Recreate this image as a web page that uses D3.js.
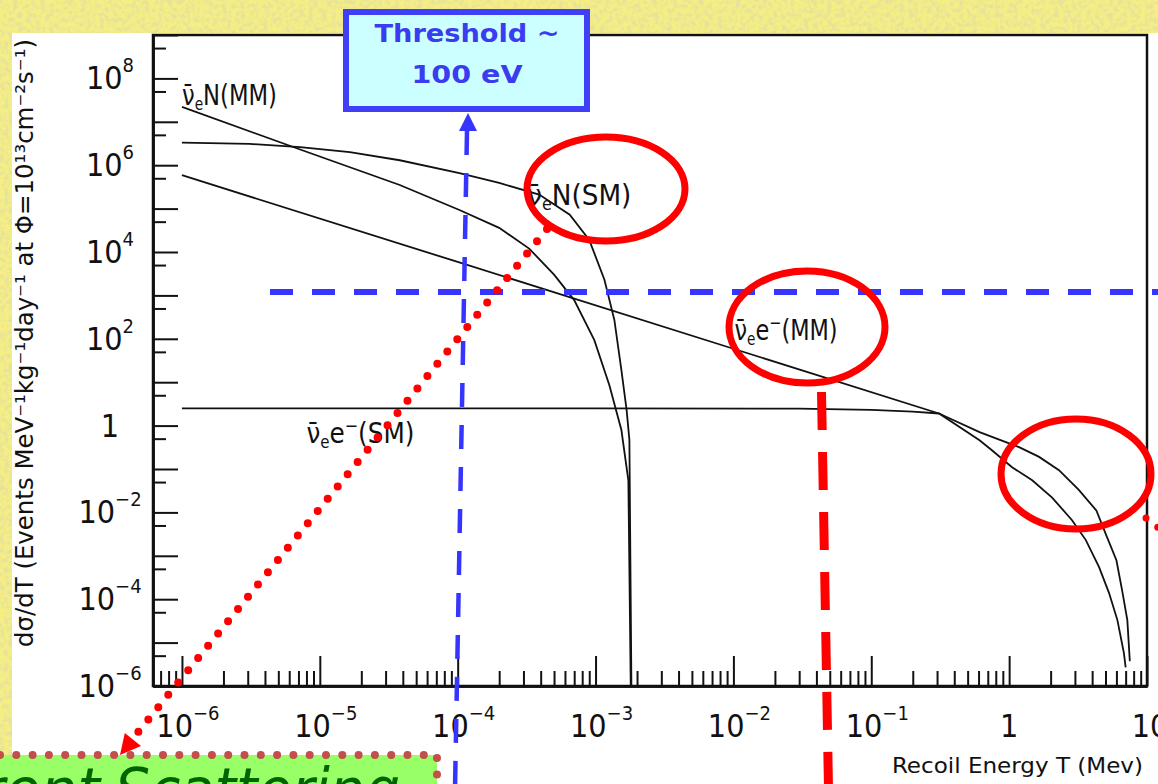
<!DOCTYPE html>
<html>
<head>
<meta charset="utf-8">
<title>Neutrino recoil spectra</title>
<script src="https://cdn.jsdelivr.net/npm/d3@7"></script>
<style>
  html, body { margin: 0; padding: 0; background: #f2ea7c; overflow: hidden; }
  svg { display: block; }
  .tick-label, .curve-label, .axis-title {
    font-family: "Liberation Sans Narrow", "DejaVu Sans Condensed", sans-serif;
    fill: #111;
  }
  .note { font-family: "Comic Sans MS", "DejaVu Sans", sans-serif; }
</style>
</head>
<body>
<svg id="chart" width="1158" height="784"></svg>
<script>
// --- Data ---
// tick decades
const xMajorExps = [-6, -5, -4, -3, -2, -1, 0, 1];
const yDecadeExps = [-6, -5, -4, -3, -2, -1, 0, 1, 2, 3, 4, 5, 6, 7, 8, 9];
const yLabelExps = [8, 6, 4, 2, 0, -2, -4, -6];

// curves: [recoil energy T (MeV), dσ/dT]
const nuN_MM = [[1e-6, 2.2e7], [7.2e-6, 2.3e6], [3.8e-5, 3.5e5], [1.03e-4, 9.3e4], [2.0e-4, 3.6e4],
  [3.3e-4, 1.2e4], [5.0e-4, 3.0e3], [7.0e-4, 780], [9.8e-4, 93], [1.26e-3, 8.5], [1.54e-3, 0.79],
  [1.73e-3, 0.055], [1.8e-3, 1e-6]];
const nuN_SM = [[1e-6, 3.3e6], [3.1e-6, 3.1e6], [7.2e-6, 2.6e6], [1.65e-5, 2.0e6], [3.8e-5, 1.3e6],
  [1.03e-4, 6.6e5], [2.0e-4, 3.9e5], [3.9e-4, 2.1e5], [6.5e-4, 7.2e4], [9.0e-4, 1.9e4],
  [1.16e-3, 2.3e3], [1.37e-3, 270], [1.54e-3, 19], [1.68e-3, 2.3], [1.76e-3, 0.47], [1.82e-3, 1e-6]];
const nue_MM = [[1e-6, 5.9e5], [1e-4, 5.9e3], [1e-2, 59], [0.31, 1.9], [0.61, 0.71], [1.18, 0.32],
  [1.65, 0.19], [2.3, 0.094], [3.2, 0.033], [4.3, 0.011], [5.0, 3.3e-3], [6.0, 7.9e-4],
  [6.6, 1.6e-4], [7.2, 3.3e-5], [7.5, 3.9e-6], [7.6, 3.9e-6]];
const nue_SM = [[1e-6, 2.5], [1e-3, 2.5], [3e-2, 2.45], [0.1, 2.3], [0.2, 2.1], [0.31, 1.9],
  [0.61, 0.46], [0.75, 0.27], [1.05, 0.11], [1.47, 0.055], [2.05, 0.022], [2.86, 6.6e-3],
  [3.6, 2.3e-3], [4.5, 5.4e-4], [5.3, 1.4e-4], [6.1, 3.3e-5], [6.8, 5.7e-6], [7.0, 2.7e-6]];

// curve labels: [T, value] where the label's baseline starts
const curveLabels = [
  { lepton: "N", tag: "MM", at: [1.0e-6, 2.5e7], len: 95 },
  { lepton: "N", tag: "SM", at: [3.2e-4, 1.2e5], len: 104 },
  { lepton: "e", tag: "MM", at: [1.02e-2, 94], len: 103 },
  { lepton: "e", tag: "SM", at: [8.0e-6, 0.39], len: 108 }
];

// --- 1. Setup ---
const W = 1158, H = 784;
const plot = { left: 153, right: 1147, top: 35, bottom: 686 };
const svg = d3.select("#chart");

const x = d3.scaleLog().domain([Math.pow(10, -6.21), 10]).range([plot.left, plot.right]);
const y = d3.scaleLog().domain([1e-6, 1e9]).range([plot.bottom, plot.top]);

// --- 2. Background ---
const defs = svg.append("defs");
const tex = defs.append("filter").attr("id", "paper").attr("x", 0).attr("y", 0).attr("width", "100%").attr("height", "100%");
tex.append("feTurbulence").attr("type", "fractalNoise").attr("baseFrequency", 0.22).attr("numOctaves", 2).attr("seed", 4);
tex.append("feColorMatrix").attr("type", "matrix")
  .attr("values", "0 0 0 0 0.80  0 0 0 0 0.76  0 0 0 0 0.32  3.6 0 0 0 -1.5");
defs.append("clipPath").attr("id", "plotClip").append("rect")
  .attr("x", plot.left).attr("y", plot.top)
  .attr("width", plot.right - plot.left).attr("height", plot.bottom - plot.top);

svg.append("rect").attr("width", W).attr("height", H).attr("fill", "#f5ee84");
svg.append("rect").attr("width", W).attr("height", H).attr("filter", "url(#paper)");
svg.append("rect").attr("x", 12).attr("y", 33).attr("width", W - 12).attr("height", H - 33).attr("fill", "#fff");

// --- 3. Frame & axes ---
svg.append("rect")
  .attr("x", plot.left).attr("y", plot.top)
  .attr("width", plot.right - plot.left).attr("height", plot.bottom - plot.top)
  .attr("fill", "none").attr("stroke", "#111").attr("stroke-width", 2.5);

const xMinorVals = [];
[-7, -6, -5, -4, -3, -2, -1, 0].forEach(e => {
  [2, 3, 4, 5, 6, 7, 8, 9].forEach(m => {
    const v = m * Math.pow(10, e);
    if (v > x.domain()[0] && v < x.domain()[1]) xMinorVals.push(v);
  });
});
const xMajorVals = xMajorExps.map(e => Math.pow(10, e));

function styleAxis(g) {
  g.selectAll("path, line").attr("stroke", "#111").attr("stroke-width", 2);
  g.select(".domain").attr("stroke-width", 2.5);
}

svg.append("g").attr("transform", `translate(0,${plot.bottom})`)
  .call(d3.axisBottom(x).tickValues(xMinorVals).tickSizeInner(-15).tickSizeOuter(0).tickFormat(""))
  .call(styleAxis);
svg.append("g").attr("transform", `translate(0,${plot.bottom})`)
  .call(d3.axisBottom(x).tickValues(xMajorVals).tickSizeInner(-30).tickSizeOuter(0).tickFormat(""))
  .call(styleAxis);

const yDecadeVals = yDecadeExps.map(e => Math.pow(10, e));
const yHalfVals = yDecadeExps.slice(1).map(e => 5 * Math.pow(10, e - 1));
svg.append("g").attr("transform", `translate(${plot.left},0)`)
  .call(d3.axisLeft(y).tickValues(yDecadeVals).tickSizeInner(-25).tickSizeOuter(0).tickFormat(""))
  .call(styleAxis);
svg.append("g").attr("transform", `translate(${plot.left},0)`)
  .call(d3.axisLeft(y).tickValues(yHalfVals).tickSizeInner(-13).tickSizeOuter(0).tickFormat(""))
  .call(styleAxis);

function powText(sel, e) {
  if (e === 0) { sel.text("1"); return; }
  if (e === 1) { sel.text("10"); return; }
  sel.append("tspan").text("10");
  sel.append("tspan").attr("dy", -17).attr("font-size", 20).text((e < 0 ? "\u2212" : "") + Math.abs(e));
}

svg.append("g").selectAll("text").data(xMajorExps).join("text")
  .attr("class", "tick-label")
  .attr("x", e => x(Math.pow(10, e)) + (e === 0 ? 0 : e === 1 ? 3 : 6))
  .attr("y", 737)
  .attr("text-anchor", "middle")
  .attr("font-size", 32)
  .each(function(e) { powText(d3.select(this), e); });

svg.append("g").selectAll("text").data(yLabelExps).join("text")
  .attr("class", "tick-label")
  .attr("x", 110)
  .attr("y", e => y(Math.pow(10, e)) + 11)
  .attr("text-anchor", "middle")
  .attr("font-size", 32)
  .each(function(e) { powText(d3.select(this), e); });

svg.append("text").attr("class", "axis-title")
  .attr("x", 892).attr("y", 773)
  .attr("font-size", 22)
  .attr("textLength", 251).attr("lengthAdjust", "spacingAndGlyphs")
  .text("Recoil Energy T (Mev)");

svg.append("text").attr("class", "axis-title")
  .attr("transform", "translate(33,343) rotate(-90)")
  .attr("text-anchor", "middle")
  .attr("font-size", 25)
  .attr("textLength", 608).attr("lengthAdjust", "spacingAndGlyphs")
  .text("d\u03C3/dT (Events MeV\u207B\u00B9kg\u207B\u00B9day\u207B\u00B9 at \u03A6=10\u00B9\u00B3cm\u207B\u00B2s\u207B\u00B9)");

// --- 4. Curves ---
const line = d3.line().x(d => x(d[0])).y(d => y(d[1]));
svg.append("g").attr("clip-path", "url(#plotClip)")
  .selectAll("path").data([nuN_MM, nuN_SM, nue_MM, nue_SM]).join("path")
  .attr("d", line)
  .attr("fill", "none")
  .attr("stroke", "#111")
  .attr("stroke-width", 1.8);

const lbl = svg.append("g").selectAll("text").data(curveLabels).join("text")
  .attr("class", "curve-label")
  .attr("x", d => x(d.at[0]))
  .attr("y", d => y(d.at[1]))
  .attr("font-size", 28)
  .attr("textLength", d => d.len).attr("lengthAdjust", "spacingAndGlyphs");
lbl.each(function(d) {
  const t = d3.select(this);
  t.append("tspan").text("\u03BD\u0304");
  t.append("tspan").attr("dy", 5).attr("font-size", 17).text("e");
  if (d.lepton === "e") {
    t.append("tspan").attr("dy", -5).text("e");
    t.append("tspan").attr("dy", -11).attr("font-size", 18).text("\u2212");
    t.append("tspan").attr("dy", 11).text("(" + d.tag + ")");
  } else {
    t.append("tspan").attr("dy", -5).text("N(" + d.tag + ")");
  }
});

// --- 5. Annotations ---
const blue = "#3535ff", red = "#ff0000";

// horizontal threshold line
svg.append("line").attr("x1", 270).attr("y1", 292).attr("x2", W + 5).attr("y2", 292)
  .attr("stroke", blue).attr("stroke-width", 6).attr("stroke-dasharray", "23,19");

// vertical threshold arrow
svg.append("line").attr("x1", 467).attr("y1", 131).attr("x2", 455).attr("y2", H + 5)
  .attr("stroke", blue).attr("stroke-width", 4.5).attr("stroke-dasharray", "24,18");
svg.append("path").attr("d", "M468,113 L459,131 L477,131 Z").attr("fill", blue);

// red ellipses
const ellipses = [[606, 189, 79, 52], [807, 327, 78, 56], [1076, 474, 75, 55]];
svg.append("g").selectAll("ellipse").data(ellipses).join("ellipse")
  .attr("cx", d => d[0]).attr("cy", d => d[1]).attr("rx", d => d[2]).attr("ry", d => d[3])
  .attr("fill", "none").attr("stroke", red).attr("stroke-width", 7);

// red dashed drop line
svg.append("line").attr("x1", 821.5).attr("y1", 392).attr("x2", 828.5).attr("y2", H + 5)
  .attr("stroke", red).attr("stroke-width", 9).attr("stroke-dasharray", "38,22");

// red dotted arrow to the box
svg.append("line").attr("x1", 547).attr("y1", 229).attr("x2", 134).attr("y2", 737)
  .attr("stroke", red).attr("stroke-width", 8).attr("stroke-linecap", "round")
  .attr("stroke-dasharray", "0,15.8");
svg.append("path").attr("d", "M120,755 L124.8,733 L141,746 Z").attr("fill", red);
svg.append("line").attr("x1", 1146).attr("y1", 518).attr("x2", 1166).attr("y2", 534)
  .attr("stroke", red).attr("stroke-width", 7).attr("stroke-linecap", "round")
  .attr("stroke-dasharray", "0,15");

// threshold box
svg.append("rect").attr("x", 346).attr("y", 12).attr("width", 241).attr("height", 97)
  .attr("fill", "#ccffff").attr("stroke", "#3f3ff8").attr("stroke-width", 6);
svg.append("text").attr("class", "note")
  .attr("x", 467).attr("y", 42).attr("text-anchor", "middle")
  .attr("font-size", 24).attr("font-weight", "bold").attr("fill", "#3b3bef")
  .attr("textLength", 185).attr("lengthAdjust", "spacingAndGlyphs")
  .text("Threshold ~");
svg.append("text").attr("class", "note")
  .attr("x", 467).attr("y", 83).attr("text-anchor", "middle")
  .attr("font-size", 24).attr("font-weight", "bold").attr("fill", "#3b3bef")
  .attr("textLength", 111).attr("lengthAdjust", "spacingAndGlyphs")
  .text("100 eV");

// green box (cut by the bottom edge)
svg.append("rect").attr("x", 0).attr("y", 755).attr("width", 437).attr("height", 40).attr("fill", "#99ff66");
svg.append("path").attr("d", `M0,755 H437 V${H + 10}`)
  .attr("fill", "none").attr("stroke", "#c24f4b").attr("stroke-width", 8)
  .attr("stroke-linecap", "round").attr("stroke-dasharray", "0,16.3");
svg.append("text").attr("class", "note")
  .attr("x", 100).attr("y", 810).attr("text-anchor", "end")
  .attr("font-size", 58).attr("font-style", "italic").attr("fill", "#006400")
  .text("Coherent");
svg.append("text").attr("class", "note")
  .attr("x", 115).attr("y", 810)
  .attr("font-size", 58).attr("font-style", "italic").attr("fill", "#006400")
  .attr("textLength", 285).attr("lengthAdjust", "spacingAndGlyphs")
  .text("Scattering");
</script>
</body>
</html>
